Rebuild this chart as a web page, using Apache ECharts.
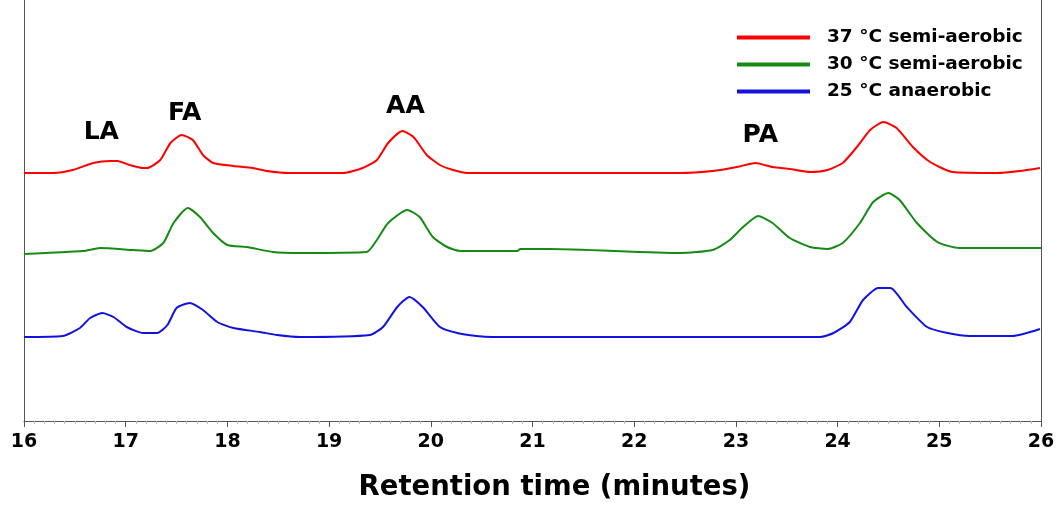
<!DOCTYPE html>
<html>
<head>
<meta charset="utf-8">
<script src="https://cdn.jsdelivr.net/npm/echarts@6/dist/echarts.min.js"></script>
<style>
  html, body { margin: 0; padding: 0; background: #fff; }
  #chart { width: 1060px; height: 507px; }
</style>
</head>
<body>
<div id="chart"></div>
<script>
// Chromatogram traces, [retention time (min), detector signal (a.u., offset per trace)]
const trace37 = [
  [16.0, 248], [16.29, 248], [16.48, 251], [16.68, 258], [16.85, 260], [16.92, 260], [17.04, 256],
  [17.17, 253], [17.21, 253], [17.34, 261], [17.44, 278], [17.55, 286], [17.66, 281], [17.76, 266],
  [17.86, 258], [18.06, 255], [18.25, 253], [18.39, 250], [18.6, 248], [19.14, 248], [19.33, 253],
  [19.47, 261], [19.58, 278], [19.72, 290], [19.83, 284], [19.96, 266], [20.09, 256], [20.22, 251],
  [20.36, 248], [22.45, 248], [22.77, 250], [23.01, 254], [23.19, 258], [23.36, 254], [23.53, 252],
  [23.73, 249], [23.9, 251], [24.05, 258], [24.19, 274], [24.32, 291], [24.45, 299], [24.58, 293],
  [24.74, 274], [24.91, 259], [25.13, 249], [25.57, 248], [25.79, 250], [25.99, 253]
];
const trace30 = [
  [16.0, 167], [16.58, 170], [16.75, 173], [17.07, 171], [17.24, 170], [17.37, 178], [17.47, 198],
  [17.61, 213], [17.73, 204], [17.86, 188], [18.0, 176], [18.19, 174], [18.45, 169], [18.71, 168],
  [19.37, 169], [19.47, 181], [19.58, 198], [19.77, 211], [19.89, 204], [20.02, 184], [20.16, 174],
  [20.29, 170], [20.85, 170], [20.88, 172], [21.17, 172], [22.45, 168], [22.77, 171], [22.94, 181],
  [23.07, 194], [23.22, 205], [23.36, 198], [23.53, 183], [23.73, 174], [23.9, 172], [24.05, 178],
  [24.22, 198], [24.35, 219], [24.5, 228], [24.61, 221], [24.78, 198], [24.98, 179], [25.2, 173],
  [26.0, 173]
];
const trace25 = [
  [16.0, 84], [16.38, 85], [16.55, 93], [16.65, 103], [16.77, 108], [16.88, 104], [17.01, 94],
  [17.17, 88], [17.31, 88], [17.41, 96], [17.5, 113], [17.63, 118], [17.76, 111], [17.9, 99],
  [18.06, 93], [18.32, 89], [18.49, 86], [18.71, 84], [19.4, 86], [19.53, 94], [19.67, 114],
  [19.79, 124], [19.92, 114], [20.09, 94], [20.26, 88], [20.45, 85], [20.6, 84], [23.83, 84],
  [23.96, 88], [24.12, 99], [24.25, 121], [24.4, 133], [24.52, 133], [24.68, 114], [24.88, 94],
  [25.08, 88], [25.3, 85], [25.72, 85], [25.99, 92]
];

const seriesNames = ['37 \u00b0C semi-aerobic', '30 \u00b0C semi-aerobic', '25 \u00b0C anaerobic'];
const seriesColors = ['#ff0000', '#158a15', '#1212e0'];

// peak annotations
const peakNames = ['LA', 'FA', 'AA', 'PA'];
const peakTimes = [16.76, 17.58, 19.75, 23.24];
const peakHeights = [289, 308, 315, 286];

const font = '"DejaVu Sans", "Liberation Sans", Arial, sans-serif';
const chart = echarts.init(document.getElementById('chart'));

const lineSeries = [trace37, trace30, trace25].map((d, i) => ({
  name: seriesNames[i],
  type: 'line',
  data: d,
  smooth: 0.2,
  symbol: 'none',
  lineStyle: { width: 2, color: seriesColors[i] },
  itemStyle: { color: seriesColors[i] }
}));

chart.setOption({
  animation: false,
  grid: { left: 24, right: 19, top: 0, bottom: 86 },
  legend: {
    data: seriesNames,
    orient: 'vertical',
    left: 732,
    top: 23,
    itemWidth: 73,
    itemHeight: 4,
    itemGap: 8,
    icon: 'rect',
    textStyle: { fontFamily: font, fontWeight: 'bold', fontSize: 18.5, color: '#000', padding: [0, 0, 0, 12] }
  },
  xAxis: {
    type: 'value',
    min: 16,
    max: 26,
    interval: 1,
    name: 'Retention time (minutes)',
    nameLocation: 'middle',
    nameGap: 53,
    nameTextStyle: { fontFamily: font, fontWeight: 'bold', fontSize: 27.5, color: '#000', padding: [0, 0, 0, 44] },
    axisLine: { lineStyle: { color: '#555', width: 1 } },
    axisTick: { show: true, length: 6, lineStyle: { color: '#555' } },
    minorTick: { show: true, splitNumber: 10, length: 3, lineStyle: { color: '#bbb' } },
    axisLabel: { fontFamily: font, fontWeight: 'bold', fontSize: 19, color: '#000', margin: 12 },
    splitLine: { show: false }
  },
  yAxis: [
    {
      type: 'value', min: 0, max: 421, position: 'left',
      axisLine: { show: true, lineStyle: { color: '#555' } },
      axisTick: { show: false }, axisLabel: { show: false }, splitLine: { show: false }
    },
    {
      type: 'value', min: 0, max: 421, position: 'right',
      axisLine: { show: true, lineStyle: { color: '#555' } },
      axisTick: { show: false }, axisLabel: { show: false }, splitLine: { show: false }
    }
  ],
  series: lineSeries.concat([{
    type: 'scatter',
    symbolSize: 0,
    silent: true,
    itemStyle: { opacity: 1 },
    data: peakTimes.map((t, i) => ({ value: [t, peakHeights[i]], name: peakNames[i] })),
    label: {
      show: true,
      position: 'inside',
      formatter: p => p.name,
      fontFamily: font,
      fontWeight: 'bold',
      fontSize: 25,
      color: '#000'
    }
  }])
});
</script>
</body>
</html>
